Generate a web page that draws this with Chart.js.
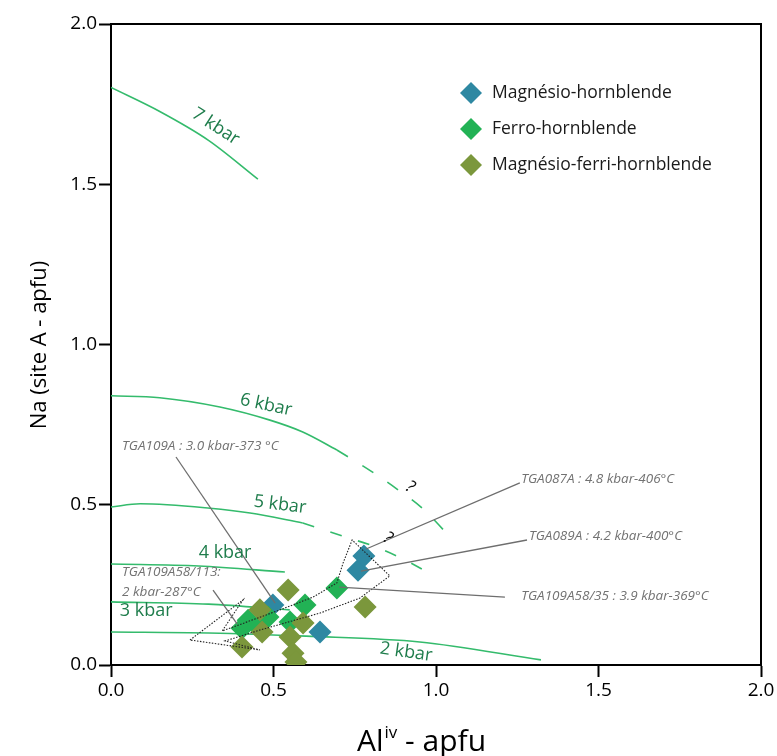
<!DOCTYPE html>
<html><head><meta charset="utf-8">
<script src="https://cdn.jsdelivr.net/npm/chart.js@4"></script>
<style>html,body{margin:0;padding:0;background:#fff}</style>
</head><body>
<canvas id="c" width="777" height="756"></canvas>
<script>
// ---- series (Al iv apfu vs Na site A apfu) ----
const seriesNames = ['Magnésio-hornblende', 'Ferro-hornblende', 'Magnésio-ferri-hornblende'];
const seriesColors = ['#2e88a2', '#22b255', '#7b973c'];
const magHbX = [0.498, 0.643, 0.760, 0.778];
const magHbY = [0.187, 0.103, 0.296, 0.340];
const ferroHbX = [0.597, 0.551, 0.422, 0.403, 0.483, 0.452, 0.695];
const ferroHbY = [0.187, 0.134, 0.140, 0.115, 0.150, 0.119, 0.240];
const magFerriHbX = [0.545, 0.458, 0.591, 0.465, 0.551, 0.403, 0.560, 0.569, 0.782];
const magFerriHbY = [0.234, 0.172, 0.131, 0.103, 0.087, 0.056, 0.037, 0.009, 0.181];

// ---- isobars ----
const iso7X = [0, 0.15, 0.30, 0.452];
const iso7Y = [1.802, 1.727, 1.637, 1.516];
const iso6X = [0, 0.15, 0.335, 0.489, 0.59, 0.695];
const iso6Y = [0.84, 0.834, 0.805, 0.764, 0.727, 0.671];
const iso6DashX = [0.695, 0.80, 0.88, 0.957, 1.034];
const iso6DashY = [0.671, 0.605, 0.549, 0.49, 0.41];
const iso5X = [0, 0.09, 0.305, 0.428, 0.59];
const iso5Y = [0.493, 0.503, 0.489, 0.474, 0.443];
const iso5DashX = [0.59, 0.72, 0.81, 0.91, 0.99];
const iso5DashY = [0.443, 0.40, 0.37, 0.325, 0.28];
const iso4X = [0, 0.27, 0.535];
const iso4Y = [0.315, 0.309, 0.29];
const iso3X = [0, 0.3, 0.55];
const iso3Y = [0.197, 0.19, 0.172];
const iso2X = [0, 0.3, 0.6, 0.95, 1.323];
const iso2Y = [0.103, 0.10, 0.09, 0.072, 0.016];
const isoLabels = ['7 kbar', '6 kbar', '5 kbar', '4 kbar', '3 kbar', '2 kbar'];
const isoLabelX = [0.322, 0.477, 0.52, 0.351, 0.108, 0.908];
const isoLabelY = [1.68, 0.811, 0.50, 0.35, 0.168, 0.04];
const isoLabelRot = [33, 12, 7, 0, 0, 8];

// ---- sample annotations ----
const noteTexts = ['TGA109A : 3.0 kbar-373 °C', 'TGA109A58/113:', '2 kbar-287°C',
  'TGA087A : 4.8 kbar-406°C', 'TGA089A : 4.2 kbar-400°C', 'TGA109A58/35 : 3.9 kbar-369°C'];
const noteX = [0.034, 0.034, 0.034, 1.262, 1.286, 1.262];
const noteY = [0.683, 0.29, 0.228, 0.58, 0.402, 0.215];
const leaderX1 = [0.20, 0.314, 1.258, 1.28, 1.212];
const leaderY1 = [0.649, 0.234, 0.568, 0.39, 0.212];
const leaderX2 = [0.505, 0.388, 0.785, 0.769, 0.702];
const leaderY2 = [0.193, 0.128, 0.362, 0.293, 0.243];
const qMarkX = [0.92, 0.852];
const qMarkY = [0.555, 0.396];
// dotted envelope
const envX = [0.243, 0.406, 0.342, 0.52, 0.622, 0.695, 0.714, 0.742, 0.858, 0.766, 0.643, 0.458, 0.351, 0.458, 0.243];
const envY = [0.078, 0.203, 0.106, 0.172, 0.212, 0.256, 0.318, 0.39, 0.278, 0.209, 0.162, 0.109, 0.075, 0.047, 0.078];

// ---- axes ----
const axisMin = 0, axisMax = 2, axisStep = 0.5;

const zip = (xs, ys) => xs.map((x, i) => ({x, y: ys[i]}));
const ISO = '#34bb6c';
const isoSet = (xs, ys, dash) => ({type: 'line', data: zip(xs, ys), borderColor: ISO, borderWidth: 1.6,
  pointRadius: 0, tension: 0.4, cubicInterpolationMode: 'monotone', borderDash: dash || [], order: 20, fill: false});
const ptSet = (i, xs, ys) => ({type: 'scatter', label: seriesNames[i], data: zip(xs, ys), backgroundColor: seriesColors[i],
  borderColor: seriesColors[i], borderWidth: 0, pointStyle: 'rectRot', pointRadius: 11.5, order: 10 - i});

const datasets = [
  isoSet(iso7X, iso7Y), isoSet(iso6X, iso6Y), isoSet(iso6DashX, iso6DashY, [13, 17]),
  isoSet(iso5X, iso5Y), isoSet(iso5DashX, iso5DashY, [12, 17]), isoSet(iso4X, iso4Y),
  isoSet(iso3X, iso3Y), isoSet(iso2X, iso2Y),
  ptSet(0, magHbX, magHbY), ptSet(1, ferroHbX, ferroHbY), ptSet(2, magFerriHbX, magFerriHbY),
  {type: 'line', data: zip(envX, envY), borderColor: '#222', borderWidth: 1.1, borderDash: [1.5, 1.5],
    pointRadius: 0, tension: 0, order: 2, fill: false}
];
leaderX1.forEach((x, i) => datasets.push({type: 'line', data: [{x, y: leaderY1[i]}, {x: leaderX2[i], y: leaderY2[i]}],
  borderColor: '#6e6e6e', borderWidth: 1.3, pointRadius: 0, order: 1, fill: false}));

const fmt = v => Number(v).toFixed(1);

const deco = {
  id: 'deco',
  afterDatasetsDraw(chart) {
    const {ctx, scales: {x, y}} = chart;
    ctx.save();
    // isobar labels
    ctx.fillStyle = '#1f7d4c';
    ctx.font = '18px "Open Sans"';
    ctx.textAlign = 'center'; ctx.textBaseline = 'middle';
    isoLabels.forEach((t, i) => {
      ctx.save();
      ctx.translate(x.getPixelForValue(isoLabelX[i]), y.getPixelForValue(isoLabelY[i]));
      ctx.rotate(isoLabelRot[i] * Math.PI / 180);
      ctx.fillText(t, 0, 0);
      ctx.restore();
    });
    // notes
    ctx.fillStyle = '#727272';
    ctx.font = 'italic 13.5px "Open Sans"';
    ctx.textAlign = 'left';
    noteTexts.forEach((t, i) => ctx.fillText(t, x.getPixelForValue(noteX[i]), y.getPixelForValue(noteY[i])));
    // question marks
    ctx.fillStyle = '#111';
    ctx.font = 'italic 17px "Open Sans"';
    ctx.textAlign = 'center';
    qMarkX.forEach((q, i) => {
      ctx.save();
      ctx.translate(x.getPixelForValue(q), y.getPixelForValue(qMarkY[i]));
      ctx.rotate(30 * Math.PI / 180);
      ctx.fillText('?', 0, 0);
      ctx.restore();
    });
    ctx.restore();
  },
  afterDraw(chart) {
    const {ctx, chartArea: a} = chart;
    ctx.save();
    ctx.strokeStyle = '#000'; ctx.lineWidth = 2;
    ctx.beginPath();
    ctx.moveTo(a.left, a.top); ctx.lineTo(a.right, a.top); ctx.lineTo(a.right, a.bottom);
    ctx.stroke();
    // legend
    ctx.textAlign = 'left'; ctx.textBaseline = 'middle';
    ctx.font = '17.5px "Open Sans"';
    const lx = 471, ly = [93, 129, 165];
    seriesNames.forEach((n, i) => {
      ctx.fillStyle = seriesColors[i];
      ctx.beginPath();
      ctx.moveTo(lx - 11, ly[i]); ctx.lineTo(lx, ly[i] - 11); ctx.lineTo(lx + 11, ly[i]); ctx.lineTo(lx, ly[i] + 11);
      ctx.closePath(); ctx.fill();
      ctx.fillStyle = '#1a1a1a';
      ctx.fillText(n, 492, ly[i]);
    });
    // y title
    ctx.fillStyle = '#000';
    ctx.font = '22px "Open Sans"';
    ctx.textAlign = 'center';
    ctx.save();
    ctx.translate(40, 345); ctx.rotate(-Math.PI / 2);
    ctx.fillText('Na (site A - apfu)', 0, 0);
    ctx.restore();
    // x title with superscript
    const big = '30px "Open Sans"', small = '17px "Open Sans"';
    ctx.font = big; const w1 = ctx.measureText('Al').width;
    ctx.font = small; const w2 = ctx.measureText('iv').width;
    ctx.font = big; const w3 = ctx.measureText(' - apfu').width;
    let sx = 421 - (w1 + w2 + w3) / 2;
    ctx.textAlign = 'left'; ctx.textBaseline = 'alphabetic';
    const base = 751;
    ctx.font = big; ctx.fillText('Al', sx, base); sx += w1 + 1;
    ctx.font = small; ctx.fillText('iv', sx, base - 13); sx += w2;
    ctx.font = big; ctx.fillText(' - apfu', sx, base);
    ctx.restore();
  }
};

const axisCommon = {
  type: 'linear', min: axisMin, max: axisMax,
  ticks: {stepSize: axisStep, color: '#000', font: {size: 19, family: '"Open Sans"'}, padding: 2, callback: fmt},
  grid: {display: true, drawOnChartArea: false, drawTicks: true, tickLength: 12, tickColor: '#000', tickWidth: 2},
  border: {display: true, color: '#000', width: 2}
};

new Chart(document.getElementById('c'), {
  type: 'scatter',
  data: {datasets},
  options: {
    responsive: false, animation: false,
    layout: {padding: {top: 24, right: 16, left: 0, bottom: 0}},
    plugins: {legend: {display: false}, tooltip: {enabled: false}},
    scales: {
      x: Object.assign({}, axisCommon, {afterFit: s => { s.height = 91; }}),
      y: Object.assign({}, axisCommon, {afterFit: s => { s.width = 111; }})
    }
  },
  plugins: [deco]
});
</script>
</body></html>
